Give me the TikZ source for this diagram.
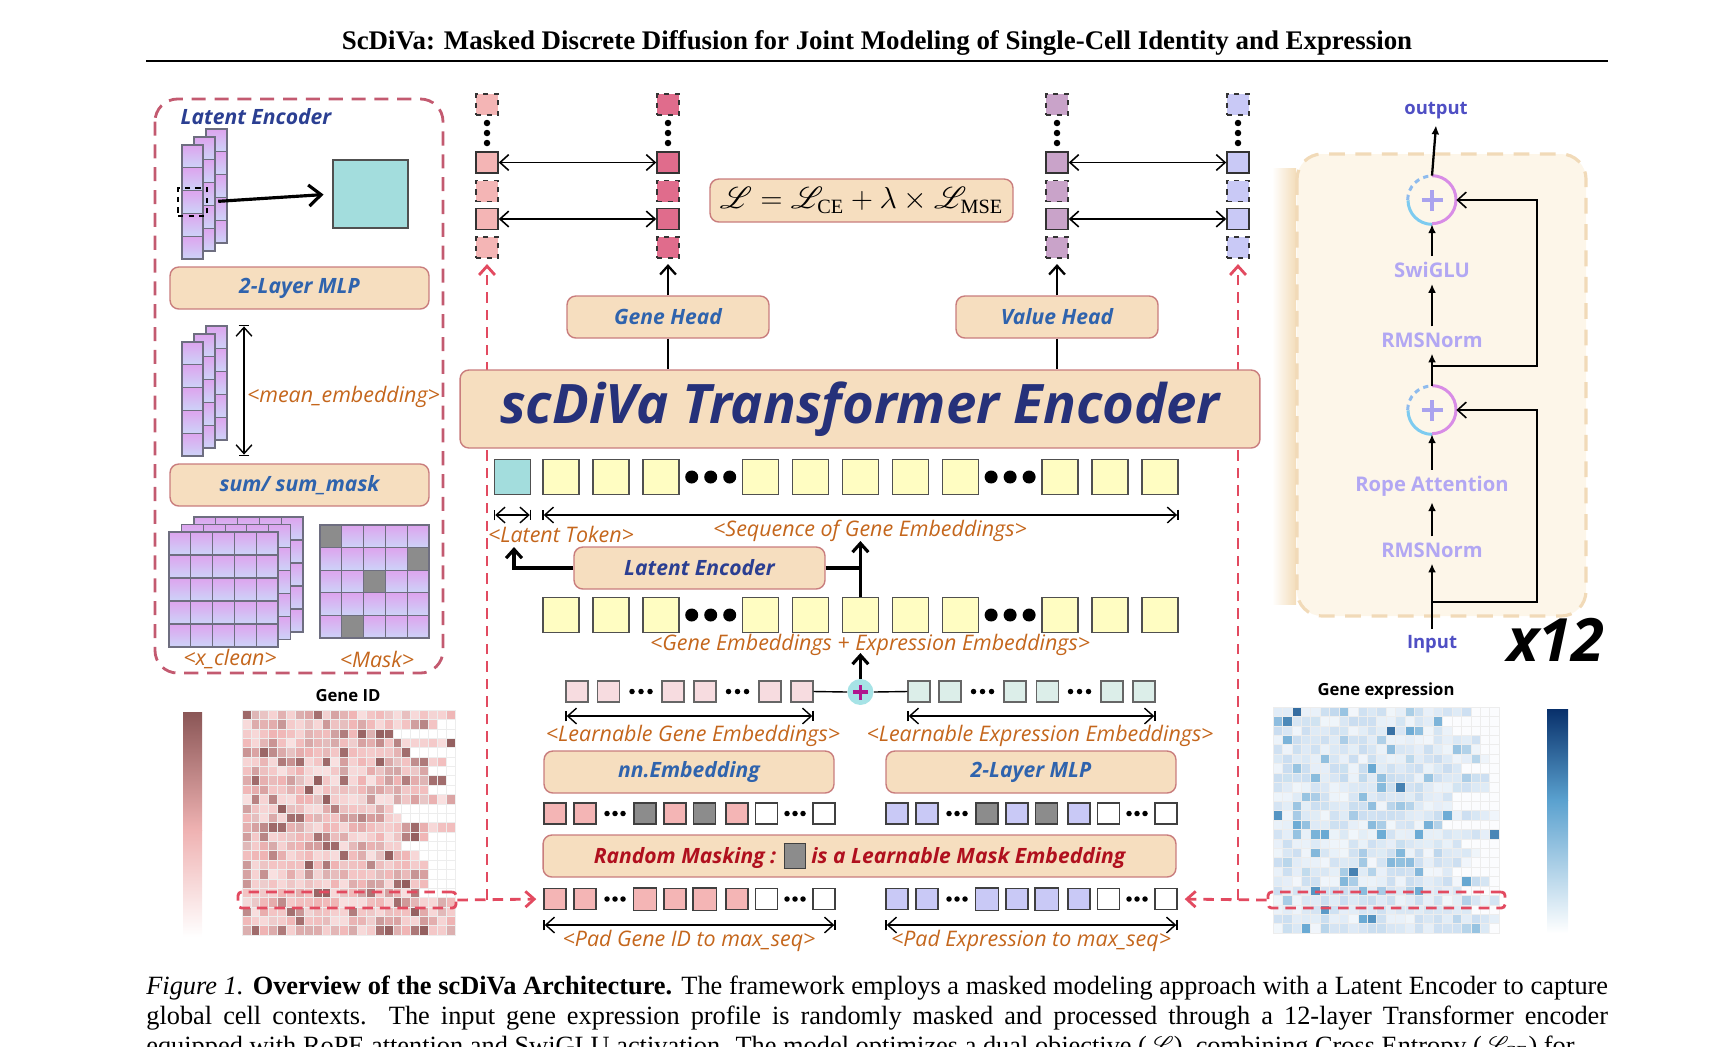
\documentclass[tikz,border=0pt]{standalone}
\usepackage{fontspec}
\setmainfont{Liberation Serif}
\newfontfamily\figfont{Open Sans}
\usepackage{mathrsfs}
\usetikzlibrary{arrows.meta,positioning}

\definecolor{boxfill}{HTML}{F6DEBF}
\definecolor{boxline}{HTML}{C97D7D}
\definecolor{lblblue}{HTML}{2F63AD}
\definecolor{navy}{HTML}{26317A}
\definecolor{leblue}{HTML}{2B3F92}
\definecolor{orng}{HTML}{C4661C}
\definecolor{mred}{HTML}{B0101E}
\definecolor{tokline}{HTML}{505050}
\definecolor{tokyel}{HTML}{FFFDC2}
\definecolor{tokcyan}{HTML}{A3DDDD}
\definecolor{lgpink}{HTML}{F7DCE0}
\definecolor{lggreen}{HTML}{DCEEE9}
\definecolor{pinkA}{HTML}{F4B5B5}
\definecolor{pinkB}{HTML}{E06C8C}
\definecolor{mauve}{HTML}{C9A3C9}
\definecolor{lavA}{HTML}{C9C9F6}
\definecolor{mgray}{HTML}{8C8C8C}
\definecolor{reddash}{HTML}{E24A60}
\definecolor{leftdash}{HTML}{C35A70}
\definecolor{panelfill}{HTML}{FDF6E9}
\definecolor{paneldash}{HTML}{F1DAB8}
\definecolor{panelshade}{HTML}{F3DDBA}
\definecolor{pantext}{HTML}{B2A7F3}
\definecolor{iotext}{HTML}{4F4FC4}
\definecolor{cellpink}{HTML}{DDA4EE}
\definecolor{cellblue}{HTML}{CDD3F8}
\definecolor{cellline}{HTML}{6E6E80}
\definecolor{ringpink}{HTML}{D88CE6}
\definecolor{ringcyan}{HTML}{7DCBF0}
\definecolor{ringdash}{HTML}{8EBBEE}
\definecolor{pluspur}{HTML}{A9A2EE}
\definecolor{pluscyan}{HTML}{A6E3E6}
\definecolor{plusmag}{HTML}{B0168F}
\definecolor{hmdark}{HTML}{8A5656}
\definecolor{hmmid}{HTML}{C69090}
\definecolor{hmpink}{HTML}{EFB2B2}
\definecolor{hbdark}{HTML}{08306B}
\definecolor{hbmid}{HTML}{5AA1CF}
\definecolor{hblight}{HTML}{C9DDF0}

\newcommand\boxfont{\figfont\bfseries\itshape\fontsize{12}{14}\selectfont}
\newcommand\orfont{\figfont\itshape\fontsize{12.2}{14}\selectfont}

\tikzset{
  >={Straight Barb[length=5pt,width=9pt]},
  stagebox/.style={draw=boxline, fill=boxfill, rounded corners=5pt, line width=0.8pt,
    minimum height=0.84cm, font=\boxfont, text=lblblue},
  orlbl/.style={font=\orfont, text=orng, inner sep=1pt},
  tok/.style={draw=tokline, line width=0.8pt, minimum width=0.72cm, minimum height=0.7cm, inner sep=0pt},
  stok/.style={draw=black!75, line width=0.8pt, minimum width=0.44cm, minimum height=0.42cm, inner sep=0pt},
  otok/.style={draw=black!80, line width=0.9pt, minimum width=0.44cm, minimum height=0.42cm, inner sep=0pt},
  cellc/.style={draw=cellline, line width=0.6pt, top color=cellpink, bottom color=cellblue},
  reddash/.style={draw=reddash, line width=1.6pt, dash pattern=on 6pt off 4pt},
  pantxt/.style={font=\figfont\bfseries\fontsize{11.5}{13}\selectfont, text=pantext},
  iotxt/.style={font=\figfont\bfseries\fontsize{10.5}{12}\selectfont, text=iotext},
  parr/.style={-{Latex[length=5pt,width=4.5pt]}, line width=1.3pt},
  resarr/.style={->, line width=0.9pt},
  dimarr/.style={|<->|, line width=0.8pt},
}

\begin{document}
\begin{tikzpicture}[x=0.02cm,y=-0.02cm]
\useasboundingbox (0,0) rectangle (1719,1046);

% title and rule
\node[font=\bfseries\fontsize{15.3}{17}\selectfont] (title) at (877,43) {ScDiVa: Masked Discrete Diffusion for Joint Modeling of Single-Cell Identity and Expression};
\draw[line width=1.2pt] (146,61) -- (1608,61);

% ---- latent encoder panel (left)
\draw[draw=leftdash, line width=1.6pt, dash pattern=on 8pt off 5pt, rounded corners=0.45cm] (155,99) rectangle (443,673);
\node[font=\boxfont, text=leblue] (letitle) at (256,117) {Latent Encoder};
\foreach \l in {2,1,0}{\foreach \i in {0,...,4}{
  \draw[cellc] ({182+12*\l},{145-8*\l+22.8*\i}) rectangle ++(21,22.8);}}
\node[draw, dashed, line width=0.8pt, minimum width=0.58cm, minimum height=0.56cm] (pick) at (192.5,202) {};
\node[draw=tokline, fill=tokcyan, line width=0.8pt, minimum width=1.5cm, minimum height=1.36cm] (lvec) at (370.5,194) {};
\draw[-{Straight Barb[length=7pt,width=12pt]}, line width=1.8pt, shorten <=6pt, shorten >=5pt] (pick.east) -- (lvec.west);
\node[stagebox, minimum width=5.18cm] (mlpL) at (299.5,288) {2-Layer MLP};
\foreach \l in {2,1,0}{\foreach \i in {0,...,4}{
  \draw[cellc] ({182+12*\l},{342-8*\l+22.8*\i}) rectangle ++(21,22.8);}}
\coordinate (meT) at (244,325);
\coordinate (meB) at (244,456);
\draw[dimarr] (meT) -- (meB);
\node[orlbl, anchor=west] (melbl) at (245,397) {<mean\_embedding>};
\node[stagebox, minimum width=5.18cm] (summ) at (299.5,485) {sum/ sum\_mask};
\foreach \l in {2,1,0}{\foreach \i in {0,...,4}{\foreach \j in {0,...,4}{
  \draw[cellc] ({169+12.5*\l+21.8*\j},{532-7.5*\l+23*\i}) rectangle ++(21.8,23);}}}
\foreach \i in {0,...,4}{\foreach \j in {0,...,4}{
  \draw[cellc] ({320+21.8*\j},{525+22.6*\i}) rectangle ++(21.8,22.6);}}
\foreach \i/\j in {0/0,1/4,2/2,4/1}
  \filldraw[fill=mgray, draw=cellline, line width=0.6pt] ({320+21.8*\j},{525+22.6*\i}) rectangle ++(21.8,22.6);
\node[orlbl] (xclbl) at (230,659) {<x\_clean>};
\node[orlbl] (mklbl) at (377,659) {<Mask>};

% ---- output columns
\foreach \c/\x/\cl in {1/487/pinkA,2/668/pinkB,3/1057/mauve,4/1238/lavA}{
  \node[otok, dashed, fill=\cl] (col\c-r1) at (\x,104.5) {};
  \node[otok, fill=\cl] (col\c-r2) at (\x,162.5) {};
  \node[otok, dashed, fill=\cl] (col\c-r3) at (\x,191) {};
  \node[otok, fill=\cl] (col\c-r4) at (\x,219) {};
  \node[otok, dashed, fill=\cl] (col\c-r5) at (\x,247.5) {};
  \foreach \y in {123,133,143} \fill (\x,\y) circle[radius=0.065cm];
}
\draw[<->, line width=0.9pt] (col1-r2.east) -- (col2-r2.west);
\draw[<->, line width=0.9pt] (col1-r4.east) -- (col2-r4.west);
\draw[<->, line width=0.9pt] (col3-r2.east) -- (col4-r2.west);
\draw[<->, line width=0.9pt] (col3-r4.east) -- (col4-r4.west);
\node[stagebox, minimum width=6.06cm, minimum height=0.86cm, text=black, font=\fontsize{16.5}{18}\selectfont] (loss) at (861.5,200.5) {$\mathscr{L}=\mathscr{L}_{\mathrm{CE}}+\lambda\times\mathscr{L}_{\mathrm{MSE}}$};

% ---- red dashed feeds (behind the encoder)
\coordinate (rdL) at (487,900);
\coordinate (rdR) at (1238,900);
\draw[reddash, ->, shorten >=3pt] (rdL) -- (col1-r5.south);
\draw[reddash, ->, shorten >=3pt] (rdR) -- (col4-r5.south);

% ---- heads and encoder
\node[stagebox, minimum width=4.04cm] (ghead) at (668,317) {Gene Head};
\node[stagebox, minimum width=4.04cm] (vhead) at (1057,317) {Value Head};
\node[stagebox, minimum width=16cm, minimum height=1.56cm, text=navy,
  font=\figfont\bfseries\itshape\fontsize{31}{34}\selectfont] (tenc) at (860,409) {scDiVa Transformer Encoder};
\draw[line width=1.3pt] (ghead.south) -- (ghead.south |- tenc.north);
\draw[line width=1.3pt] (vhead.south) -- (vhead.south |- tenc.north);
\draw[->, line width=1.3pt, shorten >=3pt] (ghead.north) -- (col2-r5.south);
\draw[->, line width=1.3pt, shorten >=3pt] (vhead.north) -- (col3-r5.south);

% ---- token rows
\node[tok, fill=tokcyan] (lat) at (512.5,477) {};
\foreach \k in {0,1,2,4,5,6,7,8,10,11,12}{
  \node[tok, fill=tokyel] (sq\k) at ({561+49.9*\k},477) {};
  \node[tok, fill=tokyel] (em\k) at ({561+49.9*\k},615) {};
}
\foreach \k in {3,9}{\foreach \d in {-19,0,19}{
  \fill ({561+49.9*\k+\d},477) circle[radius=0.13cm];
  \fill ({561+49.9*\k+\d},615) circle[radius=0.13cm];}}
\coordinate (dlA) at (0,515);
\draw[dimarr] (lat.west |- dlA) -- (lat.east |- dlA);
\draw[dimarr] (sq0.west |- dlA) -- (sq12.east |- dlA);
\node[orlbl] (ltlbl) at (561,534) {<Latent Token>};
\node[orlbl] (sqlbl) at (870,531) {<Sequence of Gene Embeddings>};
\node[stagebox, minimum width=5.02cm, text=leblue] (lenc) at (699.5,568) {Latent Encoder};
\coordinate (ltup) at (514,547);
\draw[->, line width=1.8pt] (lenc.west) -| (ltup);
\coordinate (squp) at (em6.north |- 0,541);
\draw[line width=1.8pt] (lenc.east) -- (lenc.east -| em6.north);
\draw[->, line width=1.8pt] (em6.north) -- (squp);
\node[orlbl] (emlbl) at (870,645) {<Gene Embeddings + Expression Embeddings>};

% ---- learnable embeddings
\node[circle, fill=pluscyan, minimum size=0.52cm, inner sep=0pt] (plus) at (em6.center |- 0,692) {};
\draw[plusmag, line width=1.8pt] ([xshift=-0.15cm]plus.center) -- ([xshift=0.15cm]plus.center);
\draw[plusmag, line width=1.8pt] ([yshift=-0.15cm]plus.center) -- ([yshift=0.15cm]plus.center);
\draw[->, line width=1.8pt] (plus.north) -- (em6.center |- 0,653);
\foreach \x [count=\i] in {577,608.5,673,705,770,802}
  \node[stok, draw=black!60, fill=lgpink] (lg\i) at (\x,691.5) {};
\foreach \x [count=\i] in {919,950,1015,1047.5,1112,1144}
  \node[stok, draw=black!60, fill=lggreen] (le\i) at (\x,691.5) {};
\foreach \x in {641,737.5,982.5,1079.5}{\foreach \d in {-9,0,9}
  \fill ({\x+\d},691.5) circle[radius=0.055cm];}
\draw[line width=0.8pt] (lg6.east) -- (plus.west);
\draw[line width=0.8pt] (plus.east) -- (le1.west);
\coordinate (dlB) at (0,716);
\draw[dimarr] (lg1.west |- dlB) -- (lg6.east |- dlB);
\draw[dimarr] (le1.west |- dlB) -- (le6.east |- dlB);
\node[orlbl] (lglbl) at (693,736) {<Learnable Gene Embeddings>};
\node[orlbl] (lelbl) at (1040,736) {<Learnable Expression Embeddings>};
\node[stagebox, minimum width=5.8cm] (nnemb) at (689,772) {nn.Embedding};
\node[stagebox, minimum width=5.8cm] (mlpR) at (1031,772) {2-Layer MLP};

% ---- masked and padded rows
\foreach \x/\cl [count=\i] in {555/pinkA,585/pinkA,645/mgray,675/pinkA,704.5/mgray,737/pinkA,766.5/white,824/white}{
  \node[stok, fill=\cl] (mk\i) at (\x,813.5) {};
  \node[stok, fill=\cl] (pg\i) at (\x,899) {};}
\foreach \x/\cl [count=\i] in {897/lavA,927/lavA,987/mgray,1017/lavA,1046.5/mgray,1079/lavA,1108.5/white,1166/white}{
  \node[stok, fill=\cl] (mx\i) at (\x,813.5) {};
  \node[stok, fill=\cl] (px\i) at (\x,899) {};}
\foreach \i in {3,5}{\filldraw[fill=pinkA, draw=black!75, line width=0.8pt] (pg\i.south west) rectangle (pg\i.north east);}
\foreach \i in {3,5}{\filldraw[fill=lavA, draw=black!75, line width=0.8pt] (px\i.south west) rectangle (px\i.north east);}
\foreach \x in {615,795,957,1137}{\foreach \d in {-8,0,8}{
  \fill ({\x+\d},813.5) circle[radius=0.055cm];
  \fill ({\x+\d},899) circle[radius=0.055cm];}}
\node[stagebox, minimum width=12.66cm, text=mred] (rmask) at (859.5,856)
  {Random Masking : \setlength\fboxsep{0pt}\raisebox{-0.08cm}{\fcolorbox{black!75}{mgray}{\rule{0pt}{0.48cm}\hspace{0.42cm}}} is a Learnable Mask Embedding};
\coordinate (dlC) at (0,925);
\draw[dimarr] (pg1.west |- dlC) -- (pg8.east |- dlC);
\draw[dimarr] (px1.west |- dlC) -- (px8.east |- dlC);
\node[orlbl] (pglbl) at (689,941) {<Pad Gene ID to max\_seq>};
\node[orlbl] (pxlbl) at (1031,941) {<Pad Expression to max\_seq>};

% ---- heatmaps
\node[font=\figfont\bfseries\fontsize{9.5}{11}\selectfont] (hmLlbl) at (348,696) {Gene ID};
\node[font=\figfont\bfseries\fontsize{9.5}{11}\selectfont] (hmRlbl) at (1386,691) {Gene expression};
\shade[top color=hmdark, bottom color=hmpink] (183,712) rectangle (202,830);
\shade[top color=hmpink, bottom color=white] (183,830) rectangle (202,937);
\shade[top color=hbdark, bottom color=hbmid] (1547,709) rectangle (1568,800);
\shade[top color=hbmid, bottom color=white] (1547,800) rectangle (1568,933);
\pgfmathsetseed{11}
\foreach \r in {0,...,23}{
  \pgfmathtruncatemacro\len{16+random(0,7)}
  \foreach \c in {0,...,23}{
    \pgfmathsetmacro\v{rnd}
    \pgfmathtruncatemacro\pa{min(100,max(0,220*(\v-0.45)))}
    \pgfmathtruncatemacro\pb{min(100,max(0,350*(\v-0.75)))}
    \pgfmathtruncatemacro\pw{\c>\len ? 0 : 40+60*rnd}
    \pgfmathtruncatemacro\pq{\c>\len ? 0 : 100}
    \colorlet{lc}{hmpink!\pw!white}
    \filldraw[fill=hmdark!\pb!hmmid!\pa!lc!\pq!white, draw=white!93!black, line width=0.3pt]
      ({242+8.875*\c},{710+9.375*\r}) rectangle ++(8.875,9.375);
  }
}
\foreach \r in {0,...,23}{
  \pgfmathtruncatemacro\len{17+random(0,6)}
  \foreach \c in {0,...,23}{
    \pgfmathsetmacro\v{rnd}
    \pgfmathtruncatemacro\pa{min(100,max(0,500*(\v-0.8)))}
    \pgfmathtruncatemacro\pb{min(100,max(0,2500*(\v-0.98)))}
    \pgfmathtruncatemacro\pw{\c>\len ? 8 : 25+75*rnd}
    \pgfmathtruncatemacro\pq{\c>\len ? 0 : 100}
    \colorlet{lc}{hblight!\pw!white}
    \filldraw[fill=hbdark!\pb!hbmid!\pa!lc!\pq!lc, draw=white!93!black, line width=0.3pt]
      ({1273+9.42*\c},{707+9.42*\r}) rectangle ++(9.42,9.42);
  }
}
\node[reddash, dash pattern=on 6pt off 4pt, minimum width=4.36cm, minimum height=0.32cm, rounded corners=2pt] (selL) at (347,900) {};
\node[reddash, dash pattern=on 6pt off 4pt, minimum width=4.74cm, minimum height=0.32cm, rounded corners=2pt] (selR) at (1386.5,900) {};
\draw[reddash, ->, shorten >=4pt] (selL.east) -- (pg1.west);
\draw[reddash, ->, shorten >=4pt] (selR.west) -- (px8.east);

% ---- transformer block (right)
\shade[left color=white, right color=panelshade] (1272,168) rectangle (1296,604);
\draw[fill=panelfill, draw=paneldash, line width=1.8pt, dash pattern=on 9pt off 6pt, rounded corners=0.5cm] (1297,154) rectangle (1586,616);
\node[iotxt] (out) at (1436,111) {output};
\node[iotxt] (inp) at (1432,644) {Input};
\node[pantxt] (swi) at (1432,270) {SwiGLU};
\node[pantxt] (rmsB) at (1432,340) {RMSNorm};
\node[pantxt] (rope) at (1432,486) {Rope Attention};
\node[pantxt] (rmsA) at (1432,550) {RMSNorm};
\foreach \n/\y in {plA/410,plB/200}{
  \node[circle, minimum size=0.96cm, inner sep=0pt] (\n) at (1432,\y) {};
  \draw[ringpink, line width=1.7pt] (\n.north) arc[start angle=90, end angle=-90, radius=0.48cm];
  \draw[ringcyan, line width=1.7pt] (\n.south) arc[start angle=-90, end angle=-180, radius=0.48cm];
  \draw[ringdash, line width=1.7pt, dash pattern=on 3pt off 2.5pt] (\n.west) arc[start angle=180, end angle=90, radius=0.48cm];
  \draw[pluspur, line width=2.2pt] ([xshift=-0.21cm]\n.center) -- ([xshift=0.21cm]\n.center);
  \draw[pluspur, line width=2.2pt] ([yshift=-0.21cm]\n.center) -- ([yshift=0.21cm]\n.center);
}
\draw[parr] (inp.north) -- (rmsA.south);
\draw[parr] (rmsA.north) -- (rope.south);
\draw[parr] (rope.north) -- (plA.south);
\draw[parr] (plA.north) -- (rmsB.south);
\draw[parr] (rmsB.north) -- (swi.south);
\draw[parr] (swi.north) -- (plB.south);
\draw[parr] (plB.north) -- (out.south);
\coordinate (rsA) at (1432,602);
\coordinate (rsAc) at (1537,410);
\coordinate (rsB) at (1432,366);
\coordinate (rsBc) at (1537,200);
\draw[resarr] (rsA) -| (rsAc) -- (plA.east);
\draw[resarr] (rsB) -| (rsBc) -- (plB.east);
\node[font=\figfont\bfseries\itshape\fontsize{34}{36}\selectfont] (xtw) at (1556,640) {x12};

% ---- caption
\node[anchor=north west, text width=29.24cm, align=justify, inner sep=0pt, font=\fontsize{15}{17}\selectfont] (cap) at (146,976)
  {\parfillskip=0pt \textit{Figure 1.} \textbf{Overview of the scDiVa Architecture.} The framework employs a masked modeling approach with a Latent Encoder to capture\linebreak global cell contexts. The input gene expression profile is randomly masked and processed through a 12-layer Transformer encoder\linebreak equipped with RoPE attention and SwiGLU activation. The model optimizes a dual objective ($\mathscr{L}$), combining Cross Entropy ($\mathscr{L}_{\mathrm{CE}}$) for};
\end{tikzpicture}
\end{document}
